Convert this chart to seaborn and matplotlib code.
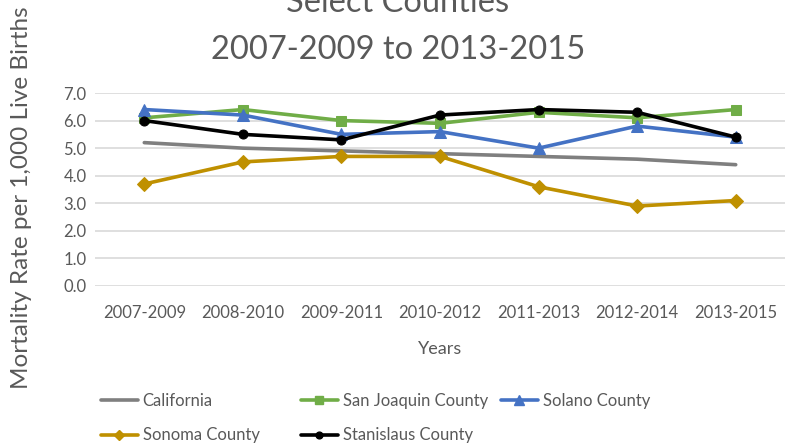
import matplotlib
matplotlib.use("Agg")
import matplotlib.pyplot as plt
import seaborn as sns
import pandas as pd
from matplotlib.lines import Line2D

years = ["2007-2009", "2008-2010", "2009-2011", "2010-2012", "2011-2013", "2012-2014", "2013-2015"]
california = [5.2, 5.0, 4.9, 4.8, 4.7, 4.6, 4.4]
san_joaquin = [6.1, 6.4, 6.0, 5.9, 6.3, 6.1, 6.4]
solano = [6.4, 6.2, 5.5, 5.6, 5.0, 5.8, 5.4]
sonoma = [3.7, 4.5, 4.7, 4.7, 3.6, 2.9, 3.1]
stanislaus = [6.0, 5.5, 5.3, 6.2, 6.4, 6.3, 5.4]
yticks = [0.0, 1.0, 2.0, 3.0, 4.0, 5.0, 6.0, 7.0]

sns.set_theme(style="white")
plt.rcParams['font.family'] = ['Lato', 'DejaVu Sans']

series = [
    ("California", california, "#7f7f7f", None, 0),
    ("San Joaquin County", san_joaquin, "#70ad47", "s", 7),
    ("Solano County", solano, "#4472c4", "^", 9),
    ("Sonoma County", sonoma, "#bf9000", "D", 7),
    ("Stanislaus County", stanislaus, "#000000", "o", 6.5),
]

fig = plt.figure(figsize=(7.92, 4.44), dpi=100)
ax = fig.add_axes([95/792, 1-286/444, 690/792, (286-93)/444])

for name, vals, col, mk, ms in series:
    df = pd.DataFrame({"Years": years, "Rate": vals})
    sns.lineplot(data=df, x="Years", y="Rate", ax=ax, color=col, linewidth=2.6,
                 marker=mk if mk else None, markersize=ms, markeredgecolor=col,
                 sort=False, zorder=3)

ax.set_xlim(-0.5, 6.5)
ax.set_ylim(0, 7.0)
ax.set_yticks(yticks)
ax.set_yticklabels([f"{v:.1f}" for v in yticks])
ax.yaxis.grid(True, color="#d9d9d9", linewidth=1.2)
ax.xaxis.grid(False)
for s in ax.spines.values():
    s.set_visible(False)
ax.tick_params(axis="both", length=0, colors="#595959", labelsize=12)
ax.tick_params(axis="x", pad=14)
ax.tick_params(axis="y", pad=6)
ax.set_xlabel("Years", fontsize=13, color="#595959", labelpad=14)
ax.set_ylabel("")
fig.text(22/792, 1-198/444, "Mortality Rate per 1,000 Live Births", rotation=90,
         ha="center", va="center", fontsize=17.5, color="#595959")

fig.text(398/792, 1-12/444, "Select Counties", ha="center", va="baseline",
         fontsize=23.5, color="#595959")
fig.text(398/792, 1-59/444, "2007-2009 to 2013-2015", ha="center", va="baseline",
         fontsize=23.5, color="#595959")

def handle(col, mk, ms):
    return Line2D([], [], color=col, linewidth=2.6, marker=mk if mk else None,
                  markersize=ms * 0.75, markeredgecolor=col)

cols = [[0, 3], [1, 4], [2]]
xs = [101, 301, 501]
for idxs, x in zip(cols, xs):
    hs = [handle(series[i][2], series[i][3], series[i][4]) for i in idxs]
    ls = [series[i][0] for i in idxs]
    leg = fig.legend(hs, ls, loc="upper left", bbox_to_anchor=(x/792, 1-393/444),
                     frameon=False, fontsize=12, handlelength=2.2, handletextpad=0.3,
                     labelspacing=1.1, borderaxespad=0, borderpad=0)
    for t in leg.get_texts():
        t.set_color("#595959")

fig.savefig("out.png", dpi=100)
